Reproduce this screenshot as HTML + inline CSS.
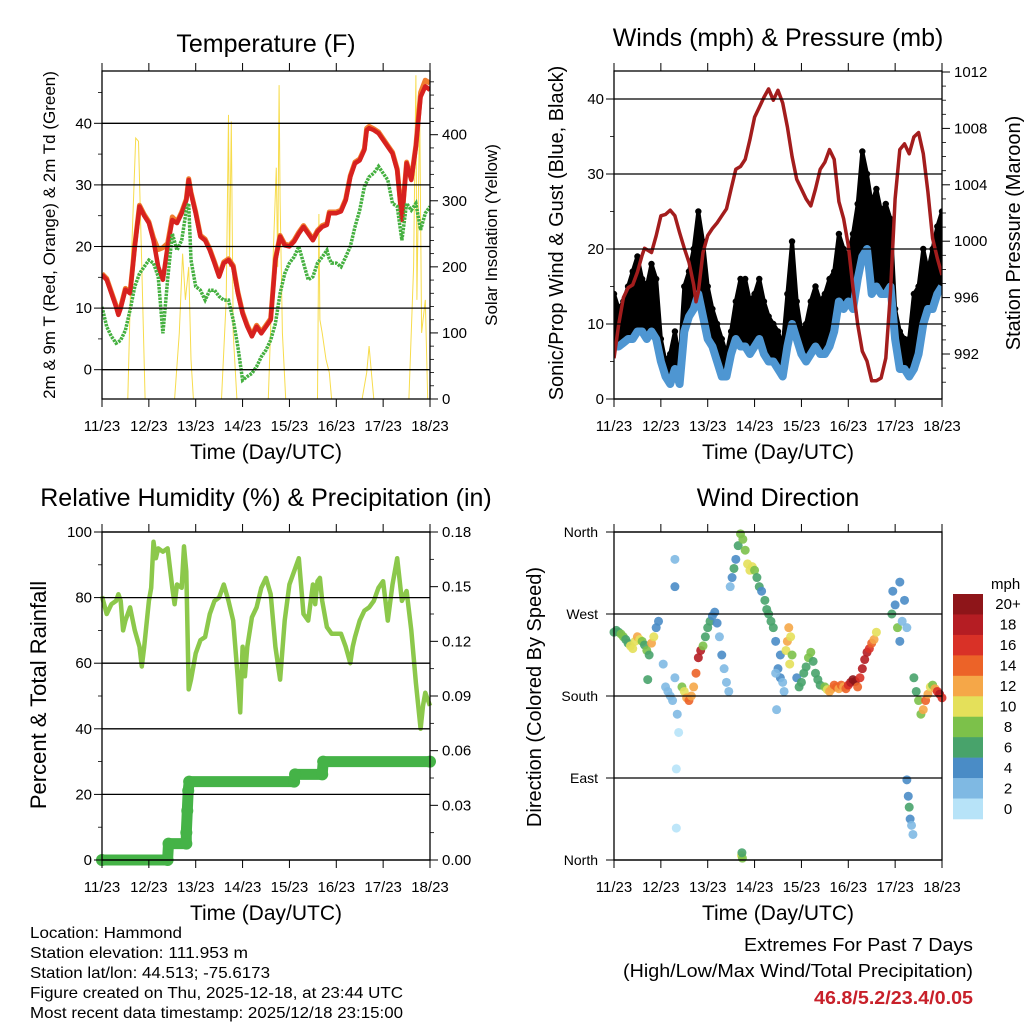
<!DOCTYPE html>
<html><head><meta charset="utf-8">
<style>
html,body{margin:0;padding:0;background:#fff;}
svg{display:block;font-family:"Liberation Sans",Arial,sans-serif;}
</style></head>
<body>
<svg id="fig" width="1024" height="1024" viewBox="0 0 1024 1024" xmlns="http://www.w3.org/2000/svg">
  <rect width="1024" height="1024" fill="#fff"/>
  <g id="layer"></g>
  <!-- titles -->
  <text x="266" y="52" font-size="25" text-anchor="middle">Temperature (F)</text>
  <text x="778" y="46" font-size="25" text-anchor="middle">Winds (mph) &amp; Pressure (mb)</text>
  <text x="266" y="506" font-size="25" text-anchor="middle">Relative Humidity (%) &amp; Precipitation (in)</text>
  <text x="778" y="506" font-size="25" text-anchor="middle">Wind Direction</text>
  <!-- x axis titles -->
  <text x="266" y="459" font-size="21" text-anchor="middle">Time (Day/UTC)</text>
  <text x="778" y="459" font-size="21" text-anchor="middle">Time (Day/UTC)</text>
  <text x="266" y="920" font-size="21" text-anchor="middle">Time (Day/UTC)</text>
  <text x="778" y="920" font-size="21" text-anchor="middle">Time (Day/UTC)</text>
  <!-- y axis titles -->
  <text transform="translate(55,235) rotate(-90)" font-size="17" text-anchor="middle">2m &amp; 9m T (Red, Orange) &amp; 2m Td (Green)</text>
  <text transform="translate(497,235) rotate(-90)" font-size="17" text-anchor="middle">Solar Insolation (Yellow)</text>
  <text transform="translate(563,233) rotate(-90)" font-size="20" text-anchor="middle">Sonic/Prop Wind &amp; Gust (Blue, Black)</text>
  <text transform="translate(1020,233) rotate(-90)" font-size="20" text-anchor="middle">Station Pressure (Maroon)</text>
  <text transform="translate(46,695) rotate(-90)" font-size="22" text-anchor="middle">Percent &amp; Total Rainfall</text>
  <text transform="translate(541,697) rotate(-90)" font-size="20" text-anchor="middle">Direction (Colored By Speed)</text>
  <!-- footer -->
  <g font-size="16">
    <text x="30" y="938" textLength="152" lengthAdjust="spacingAndGlyphs">Location: Hammond</text>
    <text x="30" y="958" textLength="218" lengthAdjust="spacingAndGlyphs">Station elevation: 111.953 m</text>
    <text x="30" y="978" textLength="240" lengthAdjust="spacingAndGlyphs">Station lat/lon: 44.513; -75.6173</text>
    <text x="30" y="998" textLength="373" lengthAdjust="spacingAndGlyphs">Figure created on Thu, 2025-12-18, at 23:44 UTC</text>
    <text x="30" y="1018" textLength="373" lengthAdjust="spacingAndGlyphs">Most recent data timestamp: 2025/12/18 23:15:00</text>
  </g>
  <g font-size="18" text-anchor="end">
    <text x="973" y="951" textLength="229" lengthAdjust="spacingAndGlyphs">Extremes For Past 7 Days</text>
    <text x="973" y="977" textLength="350" lengthAdjust="spacingAndGlyphs">(High/Low/Max Wind/Total Precipitation)</text>
    <text x="973" y="1004" fill="#c8202a" font-weight="bold" textLength="159" lengthAdjust="spacingAndGlyphs">46.8/5.2/23.4/0.05</text>
  </g>
</svg>
<script>
// ---------- data ----------
const dayLabels = ["11/23","12/23","13/23","14/23","15/23","16/23","17/23","18/23"];
const tT = [0,0.1,0.2,0.3,0.35,0.4,0.5,0.6,0.7,0.8,0.9,1.0,1.1,1.2,1.3,1.4,1.5,1.6,1.7,1.8,1.85,1.9,2.0,2.1,2.2,2.3,2.4,2.5,2.6,2.7,2.8,2.9,3.0,3.1,3.2,3.3,3.4,3.5,3.6,3.7,3.8,3.9,4.0,4.1,4.2,4.3,4.4,4.5,4.6,4.7,4.8,4.85,4.9,5.0,5.1,5.2,5.3,5.4,5.5,5.6,5.65,5.7,5.8,5.9,6.0,6.1,6.2,6.3,6.4,6.5,6.6,6.7,6.8,6.9,7.0];
const tempRed = [15.4,14.6,12.4,10.2,8.9,10,13,12.4,20,26.5,25,23.8,21,16.7,14.6,20,24.3,23.8,25.4,27.5,30.8,28.6,25.4,21.6,21,19.4,17.3,15.1,17.3,17.8,16.7,12.4,9.1,7,5.4,7,5.9,7,8.1,17.8,21.6,20.2,20,20.8,22.1,23.2,22.1,21,22.4,23.2,23.5,25.4,25.4,25.4,25.7,27.5,31.3,33.5,34,35.7,38.9,39.2,38.9,38.4,37.3,36.2,35.1,32.4,24.3,33.5,30.8,36.2,44.3,46,45.4];
const tempOrange = [15.6,14.8,12.6,10.4,9.1,10.2,13.2,12.6,20.2,26.7,25.2,24,21.4,19.5,19.8,20.5,24.8,24,25.6,27.7,31,28.8,25.6,21.8,21.2,19.6,17.5,15.3,17.5,18,16.9,12.6,9.3,7.2,5.6,7.2,6.1,7.2,8.3,18,21.8,20.4,20.2,21,22.3,23.4,22.3,21.2,22.6,23.4,23.7,25.6,25.6,25.6,25.9,27.7,31.5,33.7,34.2,35.9,39.2,39.5,39.1,38.6,37.5,36.4,35.3,32.6,24.5,33.7,31,36.4,45,47,46.5];
const tempDew = [10.2,7,5.4,4.3,4.5,4.8,6.4,9.7,13.5,15.6,16.7,17.8,17.3,15.1,5.9,14.6,22.1,19.4,21,25.9,27,17.8,13.5,12.9,11.3,12.9,12.9,11.9,11.3,11.3,8.1,3.7,-1.7,-1.1,-0.6,0.5,2.1,3.2,4.8,7.5,12.4,15.6,17.3,18.3,20,17.3,14.6,15.1,17.3,18.3,19.4,18,17.3,17.3,16.7,18.3,20,23.2,25.9,29.7,30.5,31.3,31.9,33,31.9,30.8,27,26.5,21,27,25.9,27,22.7,25.4,26.5];
const solarT = [0.55,0.62,0.72,0.78,0.85,0.92,1.55,1.65,1.72,1.78,1.85,1.9,1.95,2.55,2.65,2.7,2.72,2.76,2.8,2.88,3.55,3.62,3.72,3.75,3.78,3.8,3.85,3.92,4.6,4.63,4.65,4.7,4.78,4.85,4.9,5.55,5.65,5.7,5.75,5.8,6.55,6.65,6.7,6.72,6.78,6.82,6.9,6.95];
const solarV = [0,200,395,390,200,0,0,100,220,150,200,60,0,0,150,430,200,420,100,0,0,150,350,200,475,300,100,0,0,280,120,100,60,40,0,0,40,80,40,0,0,200,490,150,440,100,150,0];
const windT = [0,0.1,0.2,0.3,0.4,0.5,0.6,0.7,0.8,0.9,1.0,1.1,1.2,1.3,1.4,1.5,1.6,1.7,1.8,1.9,2.0,2.1,2.2,2.3,2.4,2.5,2.6,2.7,2.8,2.9,3.0,3.1,3.2,3.3,3.4,3.5,3.6,3.7,3.8,3.9,4.0,4.1,4.2,4.3,4.4,4.5,4.6,4.7,4.8,4.9,5.0,5.1,5.2,5.3,5.4,5.5,5.6,5.7,5.8,5.9,6.0,6.1,6.2,6.3,6.4,6.5,6.6,6.7,6.8,6.9,7.0];
const windSpeed = [7,7,7.5,8,8,9,9,8,9,8,5,3,2,4,2,9,11,12,14,11,8,7,5,3,3,6,8,7,7,6,7,8,6,5,5,4,3,7,10,8,6,5,6,7,6,6,7,9,13,12,13,12,16,19,20,14,15,14,14,15,8,4,4,3,4,6,10,12,12,14,15];
const windGust = [14,12,13,15,17,19,16,15,18,16,8,5,6,9,5,15,17,20,25,21,15,12,10,8,6,9,13,16,16,13,14,16,13,11,10,9,7,14,21,13,9,10,13,15,13,14,16,17,22,20,19,22,26,33,30,26,28,25,26,24,12,9,8,8,14,15,20,17,20,23,25];
const presT = [0,0.1,0.2,0.3,0.4,0.5,0.6,0.65,0.8,0.9,1.0,1.1,1.2,1.3,1.4,1.5,1.6,1.7,1.75,1.8,1.9,2.0,2.1,2.2,2.3,2.4,2.5,2.6,2.7,2.8,2.9,3.0,3.1,3.2,3.3,3.4,3.5,3.6,3.7,3.8,3.9,4.0,4.1,4.2,4.3,4.4,4.5,4.6,4.7,4.8,4.9,5.0,5.1,5.2,5.3,5.4,5.5,5.6,5.7,5.8,5.9,6.0,6.1,6.2,6.3,6.4,6.5,6.6,6.7,6.8,6.9,7.0];
const pressure = [991.7,994.1,996,996.7,996.9,997.8,999,999.5,999.2,1000.4,1001.8,1001.9,1002.2,1001.8,1000.6,999.5,998.5,996.9,995.7,996.4,999.2,1000.4,1000.9,1001.3,1001.8,1002.3,1003.7,1005.1,1005.3,1005.8,1007.2,1008.8,1009.5,1010.2,1010.8,1010,1010.7,1009.8,1008.1,1006,1004.4,1003.7,1003,1002.5,1003.7,1005.1,1005.6,1006.5,1005.8,1002.8,1001.6,999.7,996.7,994.1,992.2,991.5,990.1,990.1,990.3,991.7,996.4,1003,1006.5,1006.9,1006.2,1007.4,1007.7,1006.2,1003.5,1000.2,998.8,997.6];
const rhT = [0,0.1,0.2,0.3,0.35,0.4,0.45,0.5,0.6,0.7,0.8,0.85,0.9,1.0,1.05,1.1,1.15,1.2,1.3,1.4,1.5,1.55,1.6,1.7,1.75,1.8,1.85,1.9,2.0,2.1,2.2,2.3,2.4,2.5,2.6,2.7,2.8,2.9,2.95,3.0,3.05,3.1,3.2,3.3,3.4,3.5,3.6,3.7,3.8,3.9,4.0,4.1,4.2,4.3,4.4,4.5,4.55,4.6,4.65,4.7,4.8,4.9,5.0,5.1,5.2,5.3,5.35,5.4,5.5,5.6,5.7,5.8,5.9,6.0,6.1,6.2,6.3,6.4,6.5,6.6,6.7,6.8,6.85,6.9,7.0];
const rh = [80.4,75,78,79,81,79,70,73,77,70,65,59,65,79,83,97,92,95,94,95,83,78,84,83,95.6,88,52,55,63,67,68,75,79,80,84,79,73,55,45,65,56,65,74,77,83,86,81,65,55,73,84,88,92,75,73,84,78,85,86,79,71,69,69,69,65,60,65,68,73,76,77,79,83,85,73,84,92,79,82,70,54,40,47,51,47];
const precipT = [0,1.4,1.42,1.8,1.8,1.82,1.84,1.86,4.1,4.12,4.7,4.72,7.0];
const precip = [0,0,0.009,0.009,0.015,0.027,0.038,0.043,0.043,0.047,0.047,0.054,0.054];
const dirT = [0,0.05,0.1,0.15,0.2,0.25,0.3,0.35,0.4,0.45,0.5,0.55,0.6,0.65,0.7,0.75,0.8,0.85,0.9,0.95,0.72,1.05,1.1,1.15,1.2,1.25,1.3,1.35,1.38,1.3,1.3,1.33,1.33,1.45,1.5,1.55,1.6,1.65,1.7,1.75,1.8,1.85,1.9,1.95,2.0,2.05,2.1,2.15,2.2,2.25,2.3,2.35,2.4,2.45,2.48,2.52,2.56,2.6,2.65,2.7,2.75,2.8,2.85,2.9,2.95,3.0,3.05,3.1,3.15,3.22,3.26,3.3,3.35,3.4,3.45,3.5,3.55,3.6,3.63,3.45,3.47,3.55,3.67,3.7,3.73,3.77,3.8,3.75,3.9,3.95,4.0,4.05,4.1,4.15,4.2,4.25,4.3,4.35,4.4,4.5,4.55,4.6,4.65,4.7,4.75,4.8,4.85,4.9,4.95,5.0,5.05,5.1,5.15,5.2,5.25,5.3,5.35,5.4,5.45,5.5,5.55,5.6,5.93,5.95,6.0,6.05,6.1,6.15,6.2,6.25,6.1,6.25,6.28,6.3,6.32,6.35,6.38,6.4,6.45,6.5,6.55,6.6,6.65,6.7,6.75,6.8,6.85,6.9,6.95,7.0,2.72,2.74,2.73];
const dirDeg = [250,252,250,248,245,242,238,235,232,240,245,242,240,236,230,225,238,245,255,262,198,215,190,185,180,175,200,160,140,330,300,100,35,190,185,178,175,180,190,205,222,230,235,245,255,262,268,272,260,245,225,210,195,185,300,310,320,330,345,358,352,340,325,318,322,318,310,300,295,285,275,270,262,255,240,210,200,195,185,205,165,225,230,240,255,245,225,215,200,190,195,205,212,222,228,218,205,198,192,190,187,185,188,192,190,188,192,190,188,192,195,198,196,190,200,210,220,228,232,238,242,250,270,295,280,255,240,262,285,255,305,88,70,58,45,38,28,200,185,175,160,165,175,182,190,192,188,185,182,178,5,2,8];
const dirSpeed = [7,6,7,8,8,7,6,10,10,11,12,10,8,7,8,6,12,10,5,4,6,2,2,3,3,2,2,2,1,3,4,1,1,8,10,12,14,12,12,14,18,18,8,6,7,6,5,4,4,3,4,3,3,2,3,4,6,5,7,8,8,9,10,10,10,9,6,6,5,6,6,6,6,6,4,4,4,3,3,3,2,5,10,12,12,10,8,10,4,6,6,6,6,8,8,7,6,7,6,8,10,12,13,14,14,12,14,13,14,16,18,20,20,14,16,18,18,18,16,14,12,10,6,5,4,8,4,3,4,3,4,4,4,6,4,2,3,6,6,8,8,12,14,12,10,8,12,16,18,16,10,8,7];
const scaleLabels = ["20+","18","16","14","12","10","8","6","4","2","0"];
const scaleColors = ["#8e1519","#b51d23","#d93127","#ec6328","#f5a748","#e4e05a","#7cc14a","#48a36b","#4a8cc6","#7fb9e3","#b7e3f8"];

// ---------- helpers ----------
const NS = "http://www.w3.org/2000/svg";
const layer = document.getElementById("layer");
function el(tag, attrs, parent){
  const e = document.createElementNS(NS, tag);
  for (const k in attrs) e.setAttribute(k, attrs[k]);
  (parent || layer).appendChild(e);
  return e;
}
function lin(d0,d1,r0,r1){ return v => r0 + (v-d0)*(r1-r0)/(d1-d0); }
function pathFrom(ts, vs, xf, yf){
  let d = "";
  for (let i=0;i<ts.length;i++) d += (i?"L":"M") + xf(ts[i]).toFixed(1) + "," + yf(vs[i]).toFixed(1);
  return d;
}
function speedColor(s){
  const idx = Math.min(10, Math.floor(s/2));
  return scaleColors[10-idx];
}

function panel(name, x0, x1, y0, y1, leftTicks, rightTicks, leftMinor, rightMinor){
  const g = el("g", {});
  
  
  const xs = lin(0,7,x0,x1);
  leftTicks.forEach(t => {
    const gl = el("line", {x1:x0, x2:x1, y1:t.y, y2:t.y, stroke:"#000", "stroke-width":1.3}, g);
    
    
    el("line", {x1:x0-8, x2:x0, y1:t.y, y2:t.y, stroke:"#000", "stroke-width":1}, g);
    if (t.label !== null){
      const tx = el("text", {x:x0-(t.pad||10), y:t.y+5, "font-size":t.fs||15, "text-anchor":"end"}, g);
      tx.textContent = t.label;
      
      
    }
  });
  (leftMinor||[]).forEach(y => el("line", {x1:x0-4, x2:x0, y1:y, y2:y, stroke:"#000", "stroke-width":0.8}, g));
  (rightTicks||[]).forEach(t => {
    el("line", {x1:x1, x2:x1+8, y1:t.y, y2:t.y, stroke:"#000", "stroke-width":1}, g);
    const tx = el("text", {x:x1+12, y:t.y+5, "font-size":15, "text-anchor":"start"}, g);
    tx.textContent = t.label;
    
    
  });
  (rightMinor||[]).forEach(y => el("line", {x1:x1, x2:x1+4, y1:y, y2:y, stroke:"#000", "stroke-width":0.8}, g));
  dayLabels.forEach((lab,i) => {
    const x = xs(i);
    el("line", {x1:x, x2:x, y1:y0-8, y2:y0, stroke:"#000", "stroke-width":1}, g);
    el("line", {x1:x, x2:x, y1:y1, y2:y1+8, stroke:"#000", "stroke-width":1}, g);
    const tx = el("text", {x:x, y:y1+32, "font-size":15, "text-anchor":"middle"}, g);
    tx.textContent = lab;
    
    
  });
  el("rect", {x:x0, y:y0, width:x1-x0, height:y1-y0, fill:"none", stroke:"#000", "stroke-width":1.3}, g);
  return xs;
}

// ===== Temperature panel =====
(function(){
  const yT = lin(0,40,369.7,123.3);
  const yS = lin(0,400,399,134.7);
  const lt = [0,10,20,30,40].map(v => ({y:yT(v), label:String(v)}));
  const minor = [-5,5,15,25,35,45].map(v => yT(v)).filter(y=>y<=399 && y>=71);
  const rt = [0,100,200,300,400].map(v => ({y:yS(v), label:String(v)}));
  const rminor = [];
  for (let v=20; v<=480; v+=20) if (v%100) rminor.push(yS(v));
  const xs = lin(0,7,102,430);
  const cp = el("clipPath", {id:"clipT"}); el("rect",{x:102,y:71,width:328,height:328},cp);
  const g = el("g", {"clip-path":"url(#clipT)"});
  
  
  const s = el("path", {d:pathFrom(solarT, solarV, xs, yS), fill:"none", stroke:"#f7dc4c", "stroke-width":1}, g);
  
  
  const o = el("path", {d:pathFrom(tT, tempOrange, xs, yT), fill:"none", stroke:"#f07d2e", "stroke-width":5, "stroke-linejoin":"round"}, g);
  
  
  const r = el("path", {d:pathFrom(tT, tempRed, xs, yT), fill:"none", stroke:"#d7211f", "stroke-width":4.5, "stroke-linejoin":"round"}, g);
  
  
  const d = el("path", {d:pathFrom(tT, tempDew, xs, yT), fill:"none", stroke:"#45b040", "stroke-width":3.5, "stroke-dasharray":"2.5 1"}, g);
  
  
  panel("temperature", 102, 430, 71, 399, lt, rt, minor, rminor);
})();

// ===== Winds panel =====
(function(){
  const yW = lin(0,40,399,99);
  const yP = lin(992,1012,354,72);
  const lt = [0,10,20,30,40].map(v => ({y:yW(v), label:String(v)}));
  const minor = [5,15,25,35].map(v=>yW(v));
  const rt = [992,996,1000,1004,1008,1012].map(v => ({y:yP(v), label:String(v)}));
  const rminor = [];
  for (let v=990; v<=1012; v+=1) if ((v-992)%4 && yP(v)<=399) rminor.push(yP(v));
  const xs = lin(0,7,614,942);
  const cp = el("clipPath", {id:"clipW"}); el("rect",{x:614,y:71,width:328,height:328},cp);
  const g = el("g", {"clip-path":"url(#clipW)"});
  
  
  let band = pathFrom(windT, windGust, xs, yW);
  for (let i=windT.length-1;i>=0;i--) band += "L" + xs(windT[i]).toFixed(1) + "," + yW(windSpeed[i]).toFixed(1);
  const b = el("path", {d:band+"Z", fill:"#000", stroke:"#000", "stroke-width":4, "stroke-linejoin":"round"}, g);
  
  
  windT.forEach((t,i) => {
    const c = el("circle", {cx:xs(t), cy:yW(windGust[i]), r:3.2, fill:"#000"}, g);
    
    
  });
  const w = el("path", {d:pathFrom(windT, windSpeed, xs, yW), fill:"none", stroke:"#4e96d2", "stroke-width":8, "stroke-linejoin":"round"}, g);
  
  
  const p = el("path", {d:pathFrom(presT, pressure, xs, yP), fill:"none", stroke:"#a31d1d", "stroke-width":3.5, "stroke-linejoin":"round"}, g);
  
  
  panel("winds", 614, 942, 71, 399, lt, rt, minor, rminor);
})();

// ===== RH panel =====
(function(){
  const yR = lin(0,100,860,532);
  const yPr = lin(0,0.18,860,532);
  const lt = [0,20,40,60,80,100].map(v => ({y:yR(v), label:String(v)}));
  const minor = [10,30,50,70,90].map(v=>yR(v));
  const rt = [0,0.03,0.06,0.09,0.12,0.15,0.18].map(v => ({y:yPr(v), label:v.toFixed(2)}));
  const rminor = [0.015,0.045,0.075,0.105,0.135,0.165].map(v=>yPr(v));
  const xs = lin(0,7,102,430);
  const g = el("g", {});
  
  
  const pr = el("path", {d:pathFrom(precipT, precip, xs, yPr), fill:"none", stroke:"#45b347", "stroke-width":11, "stroke-linecap":"round", "stroke-linejoin":"round"}, g);
  
  
  precipT.forEach((t,i) => {
    const c = el("circle", {cx:xs(t), cy:yPr(precip[i]), r:6, fill:"#45b347"}, g);
    
    
  });
  const r = el("path", {d:pathFrom(rhT, rh, xs, yR), fill:"none", stroke:"#8cc84b", "stroke-width":4.5, "stroke-linejoin":"round"}, g);
  
  
  panel("rh", 102, 430, 532, 860, lt, rt, minor, rminor);
})();

// ===== Wind direction panel =====
(function(){
  const yD = lin(0,360,860,532);
  const names = ["North","East","South","West","North"];
  const lt = [0,90,180,270,360].map((v,i) => ({y:yD(v), label:names[i], fs:14, pad:16}));
  const xs = lin(0,7,614,942);
  const g = el("g", {});
  
  
  dirT.forEach((t,i) => {
    const c = el("circle", {cx:xs(t), cy:yD(dirDeg[i]), r:4.5, fill:speedColor(dirSpeed[i]), "fill-opacity":0.9}, g);
    
    
  });
  panel("direction", 614, 942, 532, 860, lt, [], [], []);
  const cb = el("g", {});
  
  
  const t = el("text", {x:991, y:589, "font-size":15}, cb);
  t.textContent = "mph";
  
  
  const h = 225/scaleColors.length;
  scaleColors.forEach((c,i) => {
    const r = el("rect", {x:953, y:594+i*h, width:30, height:h+0.3, fill:c}, cb);
    
    
    const tx = el("text", {x:1008, y:594+i*h+h/2+5, "font-size":15, "text-anchor":"middle"}, cb);
    tx.textContent = scaleLabels[i];
    
    
  });
})();
</script>
</body></html>
